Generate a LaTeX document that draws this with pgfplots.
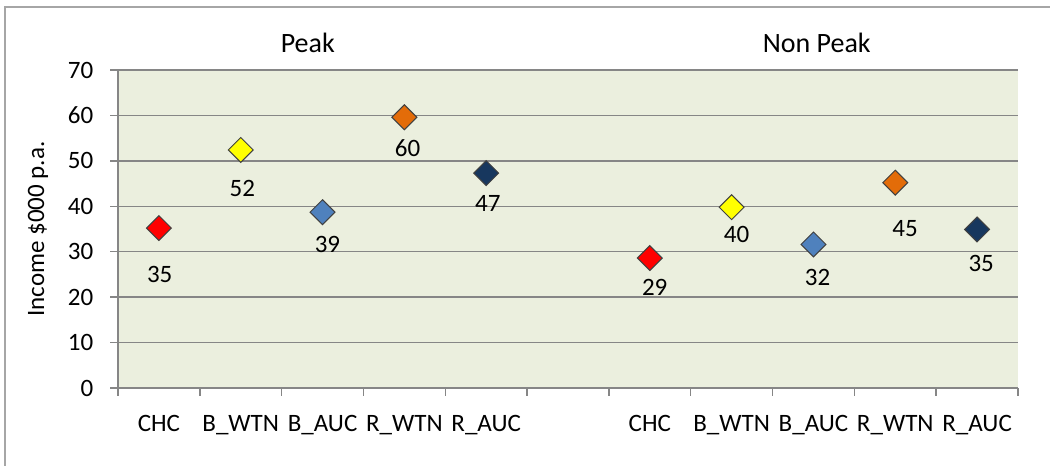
\documentclass[border=0pt]{standalone}
\usepackage{pgfplots}
\pgfplotsset{compat=1.18}
\usepackage{fontspec}
\setmainfont{Carlito}
\definecolor{bgc}{RGB}{235,239,222}
\definecolor{gridc}{RGB}{134,134,134}
\definecolor{cred}{RGB}{255,0,0}
\definecolor{cyel}{RGB}{255,255,0}
\definecolor{cblue}{RGB}{79,129,189}
\definecolor{corange}{RGB}{227,108,9}
\definecolor{cnavy}{RGB}{23,55,94}
\newcommand{\fs}{\fontsize{12.5}{15}\selectfont}
\begin{document}
\begin{tikzpicture}
\path[use as bounding box] (0,0) rectangle (525pt,233pt);
\draw[color=black!35, line width=0.8pt] (2.5pt,0) -- (2.5pt,229.5pt) -- (525pt,229.5pt);
\begin{axis}[
  at={(59pt,39pt)}, anchor=south west,
  scale only axis, width=450pt, height=159pt,
  xmin=-0.5, xmax=10.5, ymin=0, ymax=70,
  ytick={0,10,...,70},
  xtick={-0.5,0.5,...,10.5}, xticklabels={},
  extra x ticks={0,1,2,3,4,6,7,8,9,10},
  extra x tick labels={CHC,B\_WTN,B\_AUC,R\_WTN,R\_AUC,CHC,B\_WTN,B\_AUC,R\_WTN,R\_AUC},
  extra x tick style={major tick length=0pt, grid=none},
  xticklabel style={anchor=base, yshift=-22pt},
  yticklabel style={xshift=-4.8pt},
  axis x line*=bottom, axis y line*=left,
  tick align=outside, major tick length=4pt,
  tick style={color=gridc, line width=0.75pt},
  axis line style={color=gridc, line width=0.75pt},
  ymajorgrids, grid style={color=gridc, line width=0.75pt},
  axis background/.style={fill=bgc},
  tick label style={font=\fs, text=black},
  /pgf/number format/assume math mode=true,
  ylabel={Income \$000 p.a.},
  ylabel style={at={(axis description cs:-0.0889,0.5)}, anchor=center, font=\fs},
  clip=false,
  every axis plot/.append style={only marks, mark=square*, mark size=4.4pt},
]
\addplot[mark options={rotate=45, draw=black!75, line width=0.5pt, fill=cred}] coordinates {(0,35.2) (6,28.6)};
\addplot[mark options={rotate=45, draw=black!75, line width=0.5pt, fill=cyel}] coordinates {(1,52.4) (7,39.8)};
\addplot[mark options={rotate=45, draw=black!75, line width=0.5pt, fill=cblue}] coordinates {(2,38.7) (8,31.6)};
\addplot[mark options={rotate=45, draw=black!75, line width=0.5pt, fill=corange}] coordinates {(3,59.6) (9,45.2)};
\addplot[mark options={rotate=45, draw=black!75, line width=0.5pt, fill=cnavy}] coordinates {(4,47.3) (10,34.9)};
\addplot[only marks, mark=none, nodes near coords, point meta=explicit symbolic,
  nodes near coords style={anchor=center, text=black, font=\fs}]
  table[meta=lab] {
x y lab
0.01 24.9 35
1.02 44.0 52
2.06 31.5 39
3.04 52.9 60
4.02 40.7 47
6.06 22.2 29
7.06 33.9 40
8.05 24.4 32
9.12 35.2 45
10.05 27.5 35
};
\node[font=\fontsize{14}{17}\selectfont] at (axis cs:1.82,75.9) {Peak};
\node[font=\fontsize{14}{17}\selectfont] at (axis cs:8.04,75.9) {Non Peak};
\end{axis}
\end{tikzpicture}
\end{document}
